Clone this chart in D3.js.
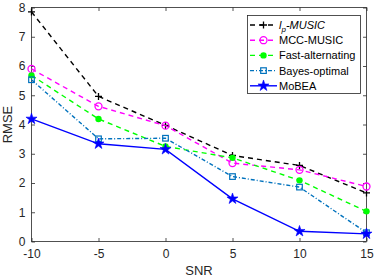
<!DOCTYPE html>
<html><head><meta charset="utf-8">
<script src="https://cdn.jsdelivr.net/npm/d3@7"></script>
<style>body{margin:0;background:#fff}svg{display:block}text{font-family:"Liberation Sans",Arial,sans-serif}</style>
</head><body><div id="c"></div>
<script>
const snr = [-10, -5, 0, 5, 10, 15];
const lpMusic = [7.85, 4.96, 3.97, 2.94, 2.6, 1.66];
const mccMusic = [5.9, 4.62, 3.96, 2.68, 2.45, 1.88];
const fastAlt = [5.68, 4.19, 3.25, 2.86, 2.09, 1.03];
const bayesOpt = [5.53, 3.51, 3.53, 2.22, 1.86, 0.3];
const mobea = [4.19, 3.34, 3.15, 1.46, 0.35, 0.26];
const xTicks = [-10, -5, 0, 5, 10, 15];
const yTicks = [0, 1, 2, 3, 4, 5, 6, 7, 8];

const W = 374, H = 280;
const m = {l: 31.5, r: 366.5, t: 7.5, b: 241.5};
const svg = d3.select("#c").append("svg").attr("width", W).attr("height", H);
const x = d3.scaleLinear().domain([-10, 15]).range([m.l, m.r]);
const y = d3.scaleLinear().domain([0, 8]).range([m.b, m.t]);
const axCol = "#262626";

// box
svg.append("rect").attr("x", m.l).attr("y", m.t).attr("width", m.r - m.l).attr("height", m.b - m.t)
  .attr("fill", "none").attr("stroke", axCol).attr("stroke-width", 0.8);

const tl = 3.5;
const fmt = d => String(d);
const gx = svg.append("g").attr("transform", `translate(0,${m.b})`)
  .call(d3.axisBottom(x).tickValues(xTicks).tickSizeInner(-tl).tickSizeOuter(0).tickPadding(8).tickFormat(fmt));
const gy = svg.append("g").attr("transform", `translate(${m.l},0)`)
  .call(d3.axisLeft(y).tickValues(yTicks).tickSizeInner(-tl).tickSizeOuter(0).tickPadding(6).tickFormat(fmt));
const gxt = svg.append("g").attr("transform", `translate(0,${m.t})`)
  .call(d3.axisTop(x).tickValues(xTicks).tickSizeInner(-tl).tickSizeOuter(0).tickFormat(""));
const gyr = svg.append("g").attr("transform", `translate(${m.r},0)`)
  .call(d3.axisRight(y).tickValues(yTicks).tickSizeInner(-tl).tickSizeOuter(0).tickFormat(""));
[gx, gy, gxt, gyr].forEach(g => {
  g.select(".domain").remove();
  g.selectAll("line").attr("stroke", axCol).attr("stroke-width", 0.8);
  g.selectAll("text").attr("fill", axCol).style("font-size", "12px").style("font-family", '"Liberation Sans",Arial,sans-serif');
});

svg.append("text").attr("x", (m.l + m.r) / 2).attr("y", 275).attr("text-anchor", "middle")
  .attr("fill", axCol).style("font-size", "13px").text("SNR");
svg.append("text").attr("transform", `translate(12,${(m.t + m.b) / 2}) rotate(-90)`).attr("text-anchor", "middle")
  .attr("fill", axCol).style("font-size", "13px").text("RMSE");

const series = [
  {name: "lp", vals: lpMusic, color: "#000000", dash: "5,4", marker: "plus"},
  {name: "MCC-MUSIC", vals: mccMusic, color: "#ff00ff", dash: "5,4", marker: "circle"},
  {name: "Fast-alternating", vals: fastAlt, color: "#00ff00", dash: "5,4", marker: "dot"},
  {name: "Bayes-optimal", vals: bayesOpt, color: "#0072bd", dash: "4,2,1,2", marker: "square"},
  {name: "MoBEA", vals: mobea, color: "#0000ff", dash: null, marker: "star"}
];

function drawMarker(g, type, cx, cy, color) {
  if (type === "plus") {
    g.append("path").attr("d", `M${cx-3.5},${cy}H${cx+3.5}M${cx},${cy-3.5}V${cy+3.5}`)
      .attr("stroke", color).attr("stroke-width", 1.3).attr("fill", "none");
  } else if (type === "circle") {
    g.append("circle").attr("cx", cx).attr("cy", cy).attr("r", 3.5)
      .attr("stroke", color).attr("stroke-width", 1.3).attr("fill", "none");
  } else if (type === "dot") {
    g.append("circle").attr("cx", cx).attr("cy", cy).attr("r", 3.2).attr("fill", color);
  } else if (type === "square") {
    g.append("rect").attr("x", cx - 2.8).attr("y", cy - 2.8).attr("width", 5.6).attr("height", 5.6)
      .attr("stroke", color).attr("stroke-width", 1.2).attr("fill", "none");
  } else if (type === "star") {
    g.append("path").attr("d", d3.symbol(d3.symbolStar, 38)()).attr("transform", `translate(${cx},${cy})`)
      .attr("fill", color).attr("stroke", color).attr("stroke-width", 0.6);
  }
}

const line = d3.line().x((d, i) => x(snr[i])).y(d => y(d));
series.forEach(s => {
  const g = svg.append("g");
  g.append("path").attr("d", line(s.vals)).attr("fill", "none").attr("stroke", s.color)
    .attr("stroke-width", 1.4).attr("stroke-dasharray", s.dash);
  s.vals.forEach((v, i) => drawMarker(g, s.marker, x(snr[i]), y(v), s.color));
});

// legend
const lg = svg.append("g");
lg.append("rect").attr("x", 247.5).attr("y", 15.5).attr("width", 113).attr("height", 78)
  .attr("fill", "#fff").attr("stroke", axCol).attr("stroke-width", 0.8);
series.forEach((s, i) => {
  const ly = 25 + i * 15.2;
  lg.append("line").attr("x1", 250).attr("x2", 277).attr("y1", ly).attr("y2", ly)
    .attr("stroke", s.color).attr("stroke-width", 1.4).attr("stroke-dasharray", s.dash);
  drawMarker(lg, s.marker, 263.5, ly, s.color);
  const t = lg.append("text").attr("x", 279).attr("y", ly + 4).attr("fill", "#000").style("font-size", "11px");
  if (s.name === "lp") {
    t.append("tspan").style("font-style", "italic").text("l");
    t.append("tspan").style("font-style", "italic").style("font-size", "8px").attr("dy", 3).text("p");
    t.append("tspan").style("font-style", "italic").attr("dy", -3).text("-MUSIC");
  } else {
    t.text(s.name);
  }
});
</script></body></html>
